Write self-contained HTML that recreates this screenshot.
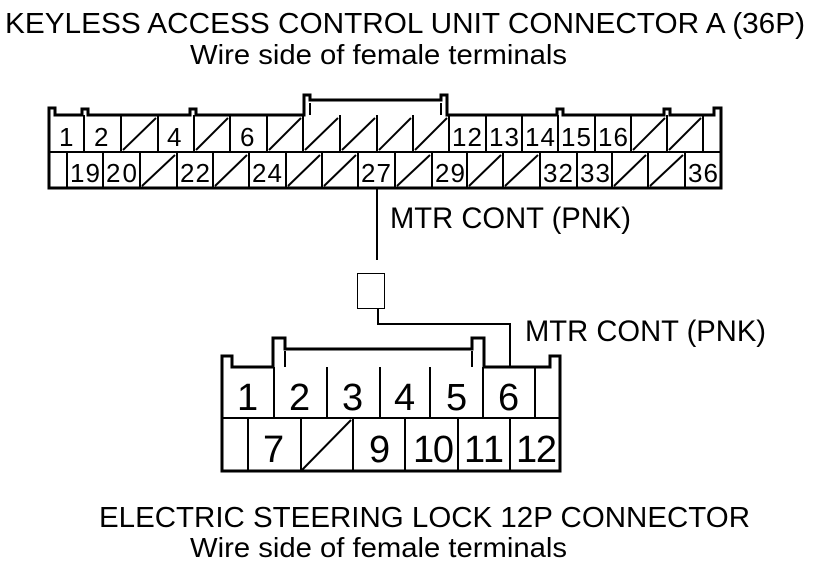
<!DOCTYPE html>
<html><head><meta charset="utf-8"><style>
html,body{margin:0;padding:0;background:#fff;}
svg{display:block;}
text{font-family:"Liberation Sans",Arial,sans-serif;fill:#000;}
</style></head><body>
<svg width="816" height="564" viewBox="0 0 816 564" xmlns="http://www.w3.org/2000/svg">
<text x="5" y="33" font-size="29" textLength="800" lengthAdjust="spacingAndGlyphs">KEYLESS ACCESS CONTROL UNIT CONNECTOR A (36P)</text>
<text x="190" y="64" font-size="28" textLength="377" lengthAdjust="spacingAndGlyphs">Wire side of female terminals</text>

<g fill="none" stroke="#000" stroke-width="3">
<path d="M49,188 L49,108 L55,108 L55,115 L82,115 L82,109 L88,109 L88,115 L190,115 L190,109 L196,109 L196,115 L304,115 L304,95 L310,95 L310,100 L441,100 L441,95 L447,95 L447,115 L557,115 L557,109 L563,109 L563,115 L664,115 L664,109 L670,109 L670,115 L714,115 L714,108 L721,108 L721,188 Z"/>
</g>
<g stroke="#000" stroke-width="2" fill="none">
<line x1="310" y1="103" x2="310" y2="115"/><line x1="441" y1="103" x2="441" y2="115"/>
<line x1="49" y1="152" x2="721" y2="152"/>
<path d="M84,115V152M121,115V152M158,115V152M194,115V152M230,115V152M267,115V152M303,115V152M340,115V152M377,115V152M413,115V152M449,115V152M486,115V152M522,115V152M558,115V152M595,115V152M631,115V152M667,115V152M703,115V152"/>
<path d="M67,152V188M103,152V188M140,152V188M177,152V188M213,152V188M249,152V188M286,152V188M322,152V188M358,152V188M395,152V188M432,152V188M467,152V188M503,152V188M540,152V188M577,152V188M612,152V188M648,152V188M685,152V188"/>
<path d="M123,150L156,118M196,150L228,118M269,150L301,118M305,150L338,118M342,150L375,118M379,150L411,118M415,150L447,118M633,150L665,118M669,150L701,118"/>
<path d="M142,186L175,155M215,186L247,155M288,186L320,155M324,186L356,155M397,186L430,155M469,186L501,155M505,186L538,155M614,186L646,155M650,186L683,155"/>
</g>
<g font-size="26" lengthAdjust="spacingAndGlyphs">
<text x="59" y="146" textLength="14">1</text><text x="94" y="146" textLength="15">2</text><text x="167" y="146" textLength="15">4</text><text x="240" y="146" textLength="15">6</text>
<text x="452" y="146" textLength="30">12</text><text x="489" y="146" textLength="30">13</text><text x="525" y="146" textLength="30">14</text><text x="561" y="146" textLength="30">15</text><text x="598" y="146" textLength="30">16</text>
<text x="70" y="182" textLength="30">19</text><text x="106" y="182" textLength="31">20</text><text x="180" y="182" textLength="30">22</text><text x="252" y="182" textLength="30">24</text><text x="361" y="182" textLength="30">27</text><text x="435" y="182" textLength="30">29</text><text x="543" y="182" textLength="30">32</text><text x="580" y="182" textLength="30">33</text><text x="688" y="182" textLength="30">36</text>
</g>

<g stroke="#000" stroke-width="2" fill="none">
<line x1="377" y1="188" x2="377" y2="260"/>
<path d="M378,308V324H510V367"/>
</g>
<rect x="357.5" y="273.5" width="27" height="35" fill="#fff" stroke="#000" stroke-width="1"/>
<text x="390" y="228" font-size="30" textLength="241" lengthAdjust="spacingAndGlyphs">MTR CONT (PNK)</text>
<text x="525" y="341" font-size="30" textLength="241" lengthAdjust="spacingAndGlyphs">MTR CONT (PNK)</text>

<g fill="none" stroke="#000" stroke-width="3">
<path d="M222,471 L222,356 L232,356 L232,367 L273,367 L273,338 L285,338 L285,349 L472,349 L472,338 L484,338 L484,367 L550,367 L550,356 L560,356 L560,471 Z"/>
</g>
<g stroke="#000" stroke-width="2" fill="none">
<line x1="285" y1="351" x2="285" y2="367"/><line x1="472" y1="351" x2="472" y2="367"/>
<line x1="222" y1="418" x2="560" y2="418"/>
<path d="M274,367V418M327,367V418M380,367V418M430,367V418M483,367V418M535,367V418"/>
<path d="M248,418V471M301,418V471M353,418V471M405,418V471M458,418V471M510,418V471"/>
<path d="M302,470L351,420"/>
</g>
<g font-size="38" lengthAdjust="spacingAndGlyphs">
<text x="237" y="410" textLength="19">1</text><text x="289" y="410" textLength="21">2</text><text x="342" y="410" textLength="21">3</text><text x="394" y="410" textLength="21">4</text><text x="446" y="410" textLength="21">5</text><text x="498" y="410" textLength="21">6</text>
<text x="263" y="462" textLength="21">7</text><text x="369" y="462" textLength="21">9</text><text x="413" y="462" textLength="41">10</text><text x="464" y="462" textLength="40">11</text><text x="516" y="462" textLength="41">12</text>
</g>

<text x="99" y="527" font-size="29" textLength="651" lengthAdjust="spacingAndGlyphs">ELECTRIC STEERING LOCK 12P CONNECTOR</text>
<text x="190" y="557" font-size="28" textLength="377" lengthAdjust="spacingAndGlyphs">Wire side of female terminals</text>
</svg>
</body></html>
